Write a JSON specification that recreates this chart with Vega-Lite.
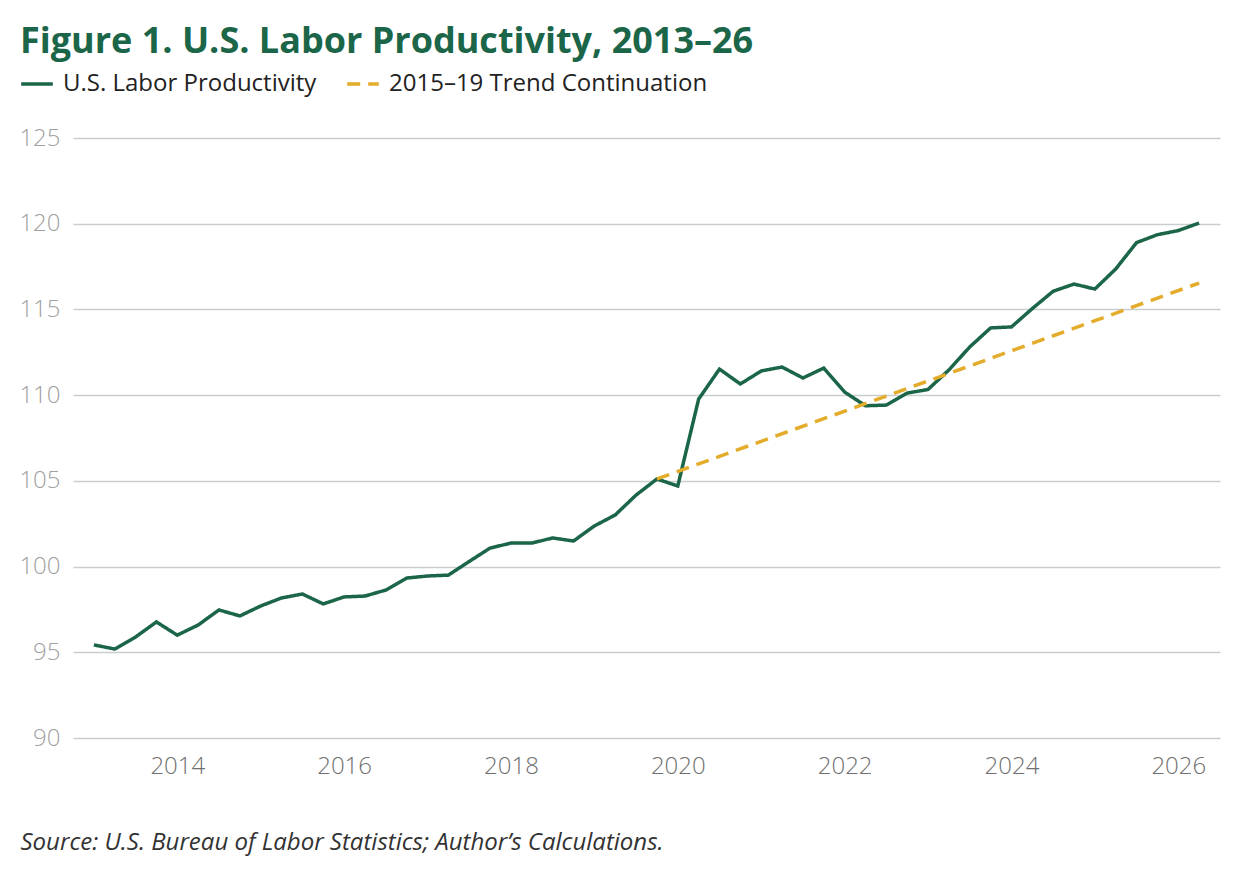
{
  "$schema": "https://vega.github.io/schema/vega-lite/v6.json",
  "width": 1147,
  "height": 600,
  "autosize": {"type": "none"},
  "padding": {"left": 73, "top": 138, "right": 20, "bottom": 142},
  "background": "white",
  "config": {"font": "Open Sans", "view": {"stroke": null}},
  "title": {
    "text": "Figure 1. U.S. Labor Productivity, 2013–26",
    "anchor": "start",
    "frame": "group",
    "dx": -53,
    "offset": 5,
    "fontSize": 36,
    "font": "Open Sans",
    "fontWeight": "bold",
    "color": "#1b6548"
  },
  "data": {
    "values": [
      {"year": 2013.00, "value": 95.43, "series": "U.S. Labor Productivity"},
      {"year": 2013.25, "value": 95.19, "series": "U.S. Labor Productivity"},
      {"year": 2013.50, "value": 95.89, "series": "U.S. Labor Productivity"},
      {"year": 2013.75, "value": 96.77, "series": "U.S. Labor Productivity"},
      {"year": 2014.00, "value": 96.00, "series": "U.S. Labor Productivity"},
      {"year": 2014.25, "value": 96.59, "series": "U.S. Labor Productivity"},
      {"year": 2014.50, "value": 97.47, "series": "U.S. Labor Productivity"},
      {"year": 2014.75, "value": 97.12, "series": "U.S. Labor Productivity"},
      {"year": 2015.00, "value": 97.70, "series": "U.S. Labor Productivity"},
      {"year": 2015.25, "value": 98.17, "series": "U.S. Labor Productivity"},
      {"year": 2015.50, "value": 98.40, "series": "U.S. Labor Productivity"},
      {"year": 2015.75, "value": 97.82, "series": "U.S. Labor Productivity"},
      {"year": 2016.00, "value": 98.23, "series": "U.S. Labor Productivity"},
      {"year": 2016.25, "value": 98.28, "series": "U.S. Labor Productivity"},
      {"year": 2016.50, "value": 98.63, "series": "U.S. Labor Productivity"},
      {"year": 2016.75, "value": 99.33, "series": "U.S. Labor Productivity"},
      {"year": 2017.00, "value": 99.45, "series": "U.S. Labor Productivity"},
      {"year": 2017.25, "value": 99.50, "series": "U.S. Labor Productivity"},
      {"year": 2017.50, "value": 100.30, "series": "U.S. Labor Productivity"},
      {"year": 2017.75, "value": 101.08, "series": "U.S. Labor Productivity"},
      {"year": 2018.00, "value": 101.37, "series": "U.S. Labor Productivity"},
      {"year": 2018.25, "value": 101.37, "series": "U.S. Labor Productivity"},
      {"year": 2018.50, "value": 101.67, "series": "U.S. Labor Productivity"},
      {"year": 2018.75, "value": 101.49, "series": "U.S. Labor Productivity"},
      {"year": 2019.00, "value": 102.37, "series": "U.S. Labor Productivity"},
      {"year": 2019.25, "value": 103.01, "series": "U.S. Labor Productivity"},
      {"year": 2019.50, "value": 104.17, "series": "U.S. Labor Productivity"},
      {"year": 2019.75, "value": 105.11, "series": "U.S. Labor Productivity"},
      {"year": 2020.00, "value": 104.70, "series": "U.S. Labor Productivity"},
      {"year": 2020.25, "value": 109.77, "series": "U.S. Labor Productivity"},
      {"year": 2020.50, "value": 111.52, "series": "U.S. Labor Productivity"},
      {"year": 2020.75, "value": 110.65, "series": "U.S. Labor Productivity"},
      {"year": 2021.00, "value": 111.41, "series": "U.S. Labor Productivity"},
      {"year": 2021.25, "value": 111.64, "series": "U.S. Labor Productivity"},
      {"year": 2021.50, "value": 111.00, "series": "U.S. Labor Productivity"},
      {"year": 2021.75, "value": 111.58, "series": "U.S. Labor Productivity"},
      {"year": 2022.00, "value": 110.18, "series": "U.S. Labor Productivity"},
      {"year": 2022.25, "value": 109.38, "series": "U.S. Labor Productivity"},
      {"year": 2022.50, "value": 109.42, "series": "U.S. Labor Productivity"},
      {"year": 2022.75, "value": 110.12, "series": "U.S. Labor Productivity"},
      {"year": 2023.00, "value": 110.33, "series": "U.S. Labor Productivity"},
      {"year": 2023.25, "value": 111.47, "series": "U.S. Labor Productivity"},
      {"year": 2023.50, "value": 112.81, "series": "U.S. Labor Productivity"},
      {"year": 2023.75, "value": 113.92, "series": "U.S. Labor Productivity"},
      {"year": 2024.00, "value": 113.98, "series": "U.S. Labor Productivity"},
      {"year": 2024.25, "value": 115.05, "series": "U.S. Labor Productivity"},
      {"year": 2024.50, "value": 116.06, "series": "U.S. Labor Productivity"},
      {"year": 2024.75, "value": 116.48, "series": "U.S. Labor Productivity"},
      {"year": 2025.00, "value": 116.19, "series": "U.S. Labor Productivity"},
      {"year": 2025.25, "value": 117.36, "series": "U.S. Labor Productivity"},
      {"year": 2025.50, "value": 118.90, "series": "U.S. Labor Productivity"},
      {"year": 2025.75, "value": 119.36, "series": "U.S. Labor Productivity"},
      {"year": 2026.00, "value": 119.60, "series": "U.S. Labor Productivity"},
      {"year": 2026.25, "value": 120.04, "series": "U.S. Labor Productivity"},
      {"year": 2019.75, "value": 105.11, "series": "2015–19 Trend Continuation"},
      {"year": 2026.25, "value": 116.54, "series": "2015–19 Trend Continuation"}
    ]
  },
  "encoding": {
    "x": {
      "field": "year",
      "type": "quantitative",
      "scale": {"domain": [2012.75, 2026.5], "nice": false, "zero": false},
      "axis": {
        "values": [2014, 2016, 2018, 2020, 2022, 2024, 2026],
        "format": "d",
        "grid": false,
        "domain": false,
        "ticks": false,
        "labelPadding": 16,
        "labelFontSize": 24,
        "labelFontWeight": 300,
        "labelColor": "#707070",
        "labelFont": "Open Sans",
        "title": "Source: U.S. Bureau of Labor Statistics; Author’s Calculations.",
        "titleAnchor": "start",
        "titleAlign": "left",
        "titleX": -53,
        "titleY": 111,
        "titleBaseline": "alphabetic",
        "titleFont": "Open Sans",
        "titleFontStyle": "italic",
        "titleFontWeight": "normal",
        "titleFontSize": 24,
        "titleColor": "#333333"
      }
    },
    "y": {
      "field": "value",
      "type": "quantitative",
      "scale": {"domain": [90, 125], "nice": false, "zero": false},
      "axis": {
        "values": [90, 95, 100, 105, 110, 115, 120, 125],
        "grid": true,
        "gridColor": "#c9cdcd",
        "gridWidth": 1.5,
        "domain": false,
        "ticks": false,
        "labelPadding": 13,
        "labelFontSize": 24,
        "labelFontWeight": 300,
        "labelColor": "#a0a0a0",
        "labelFont": "Open Sans",
        "title": null
      }
    },
    "color": {
      "field": "series",
      "type": "nominal",
      "scale": {
        "domain": ["U.S. Labor Productivity", "2015–19 Trend Continuation"],
        "range": ["#1b6548", "#e3ac2b"]
      },
      "legend": {
        "title": null,
        "orient": "none",
        "legendX": -54,
        "legendY": -72,
        "direction": "horizontal",
        "symbolType": "stroke",
        "symbolSize": 1000,
        "symbolStrokeWidth": 3.5,
        "labelFontSize": 24,
        "labelLimit": 0,
        "labelFont": "Open Sans",
        "labelColor": "#222222",
        "labelOffset": 8,
        "columnPadding": 23
      }
    },
    "strokeDash": {
      "field": "series",
      "type": "nominal",
      "scale": {
        "domain": ["U.S. Labor Productivity", "2015–19 Trend Continuation"],
        "range": [[1, 0], [13, 8]]
      },
      "legend": null
    }
  },
  "layer": [
    {
      "transform": [{"filter": "datum.series === 'U.S. Labor Productivity'"}],
      "mark": {"type": "line", "strokeWidth": 3.5}
    },
    {
      "transform": [{"filter": "datum.series === '2015–19 Trend Continuation'"}],
      "mark": {"type": "line", "strokeWidth": 3.5}
    }
  ]
}
